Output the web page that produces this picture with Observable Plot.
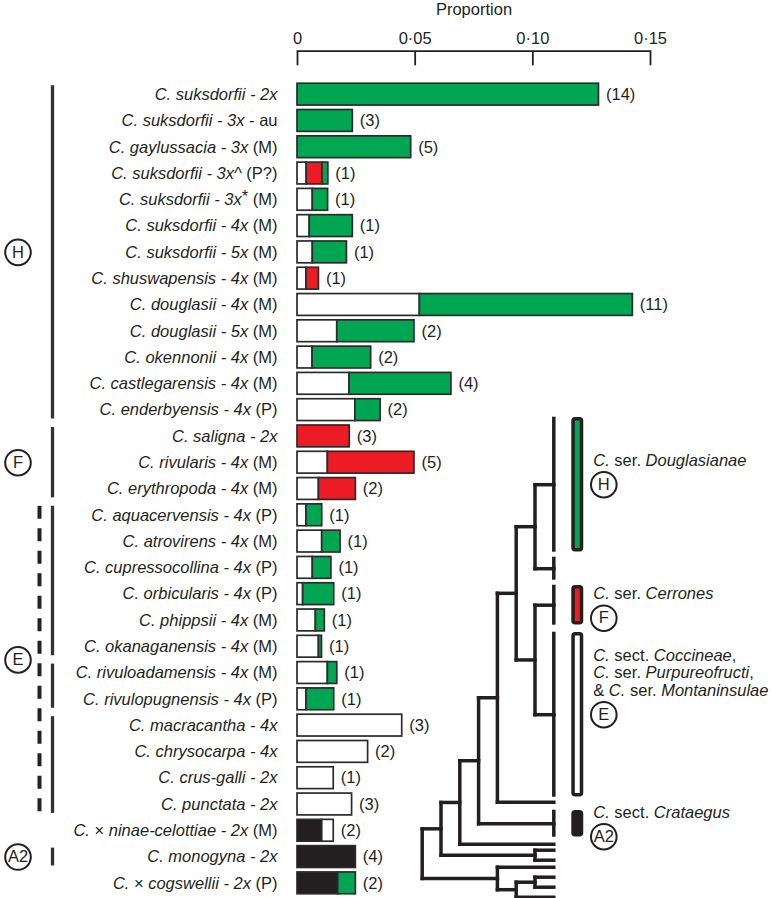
<!DOCTYPE html>
<html>
<head>
<meta charset="utf-8">
<script src="https://cdn.jsdelivr.net/npm/d3@7"></script>
<script src="https://cdn.jsdelivr.net/npm/@observablehq/plot@0.6"></script>
<style>
  body { margin: 0; background: #fff; }
  #wrap { position: relative; width: 771px; height: 898px; }
  #wrap svg { position: absolute; left: 0; top: 0; }
</style>
</head>
<body>
<div id="wrap"></div>
<script>
// ---------------- data ----------------
const taxa = [
  "C. suksdorfii - 2x",
  "C. suksdorfii - 3x - au",
  "C. gaylussacia - 3x (M)",
  "C. suksdorfii - 3x^ (P?)",
  "C. suksdorfii - 3x* (M)",
  "C. suksdorfii - 4x (M)",
  "C. suksdorfii - 5x (M)",
  "C. shuswapensis - 4x (M)",
  "C. douglasii - 4x (M)",
  "C. douglasii - 5x (M)",
  "C. okennonii - 4x (M)",
  "C. castlegarensis - 4x (M)",
  "C. enderbyensis - 4x (P)",
  "C. saligna - 2x",
  "C. rivularis - 4x (M)",
  "C. erythropoda - 4x (M)",
  "C. aquacervensis - 4x (P)",
  "C. atrovirens - 4x (M)",
  "C. cupressocollina - 4x (P)",
  "C. orbicularis - 4x (P)",
  "C. phippsii - 4x (M)",
  "C. okanaganensis - 4x (M)",
  "C. rivuloadamensis - 4x (M)",
  "C. rivulopugnensis - 4x (P)",
  "C. macracantha - 4x",
  "C. chrysocarpa - 4x",
  "C. crus-galli - 2x",
  "C. punctata - 2x",
  "C. × ninae-celottiae - 2x (M)",
  "C. monogyna - 2x",
  "C. × cogswellii - 2x (P)"
];
// proportion of private alleles shared with no clade (white), clade F (red), clade H (green), clade A2 (black)
const propNone  = [0, 0, 0, 0.0039, 0.0065, 0.0052, 0.0065, 0.0038, 0.0520, 0.0169, 0.0064, 0.0221, 0.0246, 0, 0.0129, 0.0091,
                   0.0038, 0.0105, 0.0065, 0.0024, 0.0078, 0.0091, 0.0129, 0.0038, 0.0445, 0.0300, 0.0154, 0.0232, 0.0049, 0, 0];
const propF     = [0, 0, 0, 0.0067, 0, 0, 0, 0.0053, 0, 0, 0, 0, 0, 0.0222, 0.0368, 0.0157,
                   0, 0, 0, 0, 0, 0, 0, 0, 0, 0, 0, 0, 0, 0, 0];
const propH     = [0.1281, 0.0235, 0.0483, 0.0025, 0.0065, 0.0183, 0.0145, 0, 0.0905, 0.0328, 0.0249, 0.0433, 0.0107, 0, 0, 0,
                   0.0067, 0.0078, 0.0079, 0.0132, 0.0038, 0.0013, 0.0040, 0.0118, 0, 0, 0, 0, 0, 0, 0.0075];
const propA2    = [0, 0, 0, 0, 0, 0, 0, 0, 0, 0, 0, 0, 0, 0, 0, 0,
                   0, 0, 0, 0, 0, 0, 0, 0, 0, 0, 0, 0, 0.0105, 0.0248, 0.0173];
const sampleCounts = [14, 3, 5, 1, 1, 1, 1, 1, 11, 2, 2, 4, 2, 3, 5, 2, 1, 1, 1, 1, 1, 1, 1, 1, 3, 2, 1, 3, 2, 4, 2];
const xTicks = [0, 0.05, 0.10, 0.15];

const stackOrder = ["A2", "none", "F", "H"];
const segColors  = ["#231f20", "#ffffff", "#ed1c24", "#00a651"];

// left-side groupings
const sideGroups = [
  {label: "H",  first: "C. suksdorfii - 2x",         last: "C. enderbyensis - 4x (P)"},
  {label: "F",  first: "C. saligna - 2x",            last: "C. erythropoda - 4x (M)"},
  {label: "E",  first: "C. aquacervensis - 4x (P)",  last: "C. punctata - 2x", composite: true},
  {label: "A2", first: "C. monogyna - 2x",           last: "C. monogyna - 2x"}
];
const sideSubgroups = [
  {first: "C. suksdorfii - 2x",          last: "C. enderbyensis - 4x (P)"},
  {first: "C. saligna - 2x",             last: "C. erythropoda - 4x (M)"},
  {first: "C. aquacervensis - 4x (P)",   last: "C. okanaganensis - 4x (M)"},
  {first: "C. rivuloadamensis - 4x (M)", last: "C. rivulopugnensis - 4x (P)"},
  {first: "C. macracantha - 4x",         last: "C. punctata - 2x"},
  {first: "C. monogyna - 2x",            last: "C. monogyna - 2x"}
];

// cladogram (collapsed clades have a tip span, single tips a single position; tip units from top)
const treeTopology = [[[[[[["H", "X"], ["F", "E"]], "a"], "A2"], "b"], ["c", "d"]], ["e", [["f", "g"], "h"]]];
const treeTips = [
  ["H", 0, 13.5], ["X", 14.0, 16.3], ["F", 16.8, 20.8], ["E", 21.5, 38.0],
  ["a", 38.5, 38.5], ["A2", 39.3, 42.0], ["b", 42.7, 42.7], ["c", 43.3, 43.3], ["d", 44.3, 44.3],
  ["e", 45.0, 45.0], ["f", 46.0, 46.0], ["g", 47.0, 47.0], ["h", 48.0, 48.0]
];
const cladeLegend = [
  {clade: "H",  fill: "#00a651", lines: ["_C._ ser. _Douglasianae_"]},
  {clade: "F",  fill: "#ed1c24", lines: ["_C._ ser. _Cerrones_"]},
  {clade: "E",  fill: "#ffffff", lines: ["_C._ sect. _Coccineae_,", "_C._ ser. _Purpureofructi_,", "& _C._ ser. _Montaninsulae_"]},
  {clade: "A2", fill: "#231f20", lines: ["_C._ sect. _Crataegus_"]}
];

// ---------------- derived tables ----------------
const segments = [];
taxa.forEach((t, i) => {
  const vals = {A2: propA2[i], none: propNone[i], F: propF[i], H: propH[i]};
  for (const k of stackOrder) if (vals[k] > 0) segments.push({taxon: t, type: k, value: vals[k]});
});
const rows = taxa.map((t, i) => ({taxon: t, total: propNone[i] + propF[i] + propH[i] + propA2[i], count: sampleCounts[i]}));

const INK = "#231f20";
const FONT = "'Liberation Sans', Arial, Helvetica, sans-serif";
const FS = 16.5;
const fmtTick = d => d === 0 ? "0" : d.toFixed(2).replace(".", "·");

// ---------------- main chart ----------------
const main = Plot.plot({
  width: 771, height: 898,
  marginLeft: 297, marginRight: 121, marginTop: 81, marginBottom: 2,
  style: {fontFamily: FONT, fontSize: FS + "px", color: INK, background: "transparent", overflow: "visible"},
  x: {domain: [0, 0.15]},
  y: {domain: taxa, paddingInner: 0.17, paddingOuter: 0.085, round: false},
  color: {domain: stackOrder, range: segColors},
  marks: [
    Plot.barX(segments, Plot.stackX({x: "value", y: "taxon", z: "type", fill: "type", order: stackOrder,
      stroke: "#2b2b2b", strokeWidth: 1.7})),
    Plot.text(rows, {x: "total", y: "taxon", text: d => `(${d.count})`, dx: 7, textAnchor: "start", fontSize: FS}),
    Plot.axisX({anchor: "top", ticks: xTicks, tickFormat: fmtTick, tickSize: 13.5, tickPadding: 7,
      dy: -16.7, fontSize: FS, strokeWidth: 1.8, label: null}),
    Plot.frame({anchor: "top", dy: -30.3, strokeWidth: 1.8}),
    Plot.text(["Proportion"], {frameAnchor: "top", lineAnchor: "middle", dy: -71.7, fontSize: FS}),
    Plot.axisY({anchor: "left", tickSize: 0, tickPadding: 20, fontSize: FS, label: null})
  ]
});

// rich text helpers
const SVGNS = "http://www.w3.org/2000/svg";
function setRich(el, segs) {
  el.textContent = "";
  let shift = 0;
  for (const s of segs) {
    const ts = document.createElementNS(SVGNS, "tspan");
    ts.textContent = s.t;
    ts.setAttribute("font-style", s.italic ? "italic" : "normal");
    const want = s.sup ? -3 : 0;
    if (want !== shift) { ts.setAttribute("dy", want - shift); shift = want; }
    el.appendChild(ts);
  }
}
function labelSegments(s) {
  const m = s.match(/^(.*?)((?: - au)|(?: \((?:M|P|P\?)\)))?$/);
  const segs = [];
  m[1].split(/(×|\*)/).forEach(p => {
    if (!p) return;
    if (p === "×") segs.push({t: p, italic: false});
    else if (p === "*") segs.push({t: p, italic: false, sup: true});
    else segs.push({t: p, italic: true});
  });
  if (m[2]) segs.push({t: m[2], italic: false});
  return segs;
}
function markupSegments(s) {
  return s.split("_").map((t, i) => ({t, italic: i % 2 === 1})).filter(d => d.t);
}
main.querySelectorAll('[aria-label="y-axis tick label"] text').forEach(el => setRich(el, labelSegments(el.textContent)));

// ---------------- left annotations ----------------
const rowIndex = name => taxa.indexOf(name);
const HALF = 0.34;
const CX = 17.5;
const left = Plot.plot({
  width: 771, height: 898, margin: 0,
  style: {fontFamily: FONT, fontSize: FS + "px", color: INK, background: "transparent", overflow: "visible"},
  x: {domain: [0, 771], range: [0, 771]},
  y: {domain: [-0.5, taxa.length - 0.5], range: [81, 896]},
  axis: null,
  marks: [
    Plot.ruleX(sideSubgroups, {x: () => 52, y1: d => rowIndex(d.first) - HALF, y2: d => rowIndex(d.last) + HALF,
      stroke: "#333", strokeWidth: 3.3}),
    Plot.ruleX(sideGroups.filter(d => d.composite), {x: () => 39, y1: d => rowIndex(d.first) - HALF, y2: d => rowIndex(d.last) + HALF,
      stroke: "#222", strokeWidth: 4, strokeDasharray: "13,9.5"}),
    Plot.dot(sideGroups, {x: () => CX, y: d => (rowIndex(d.first) + rowIndex(d.last)) / 2, r: 12.8,
      fill: "white", stroke: INK, strokeWidth: 2}),
    Plot.text(sideGroups, {x: () => CX, y: d => (rowIndex(d.first) + rowIndex(d.last)) / 2, text: "label", fontSize: FS})
  ]
});

// ---------------- cladogram + clade legend ----------------
const tipSpan = Object.fromEntries(treeTips.map(([n, a, b]) => [n, [a, b]]));
const branches = [], tipBars = [];
const TIP = 7;
function layout(node) {
  if (typeof node === "string") {
    const [a, b] = tipSpan[node];
    if (b > a) tipBars.push({x: TIP, y1: a, y2: b});
    return {lv: TIP, y: (a + b) / 2};
  }
  const kids = node.map(layout);
  const lv = Math.min(...kids.map(k => k.lv)) - 1;
  const ys = kids.map(k => k.y);
  const y0 = Math.min(...ys), y1 = Math.max(...ys);
  branches.push({x1: lv, x2: lv, y1: y0, y2: y1});
  for (const k of kids) branches.push({x1: lv, x2: k.lv, y1: k.y, y2: k.y});
  return {lv, y: (y0 + y1) / 2};
}
layout(treeTopology);

const legendItems = cladeLegend.map(d => {
  const [a, b] = tipSpan[d.clade];
  const mid = (a + b) / 2;
  const cy = (b - a) < 5 ? mid + 1.3 : mid;
  return {...d, y1: a, y2: b, cy};
});
const legendLines = legendItems.flatMap(d => d.lines.map((t, j) => ({text: t, y: d.cy - 2.4 - (d.lines.length - 1 - j) * 1.75})));

const tree = Plot.plot({
  width: 771, height: 898, margin: 0,
  style: {fontFamily: FONT, fontSize: FS + "px", color: INK, background: "transparent", overflow: "visible"},
  x: {domain: [0, TIP], range: [421.7, 553.3]},
  y: {domain: [0, 48], range: [416.7, 896.7]},
  axis: null,
  marks: [
    Plot.link(branches, {x1: "x1", y1: "y1", x2: "x2", y2: "y2", stroke: INK, strokeWidth: 3.5, strokeLinecap: "square"}),
    Plot.ruleX(tipBars, {x: "x", y1: "y1", y2: "y2", stroke: INK, strokeWidth: 3.5, strokeLinecap: "butt"}),
    Plot.rect(legendItems, {x1: () => 8.05, x2: () => 8.5, y1: "y1", y2: "y2", insetTop: 2, insetBottom: 2,
      fill: "fill", stroke: INK, strokeWidth: 3.5, rx: 2}),
    Plot.text(legendLines, {x: () => 9.1, y: "y", text: "text", textAnchor: "start", fontSize: FS}),
    Plot.dot(legendItems, {x: () => 9.66, y: "cy", r: 12.8, fill: "white", stroke: INK, strokeWidth: 2}),
    Plot.text(legendItems, {x: () => 9.66, y: "cy", text: "clade", fontSize: FS})
  ]
});
tree.querySelectorAll("text").forEach(el => { if (el.textContent.includes("_")) setRich(el, markupSegments(el.textContent)); });

const wrap = document.getElementById("wrap");
wrap.append(main, left, tree);
</script>
</body>
</html>
